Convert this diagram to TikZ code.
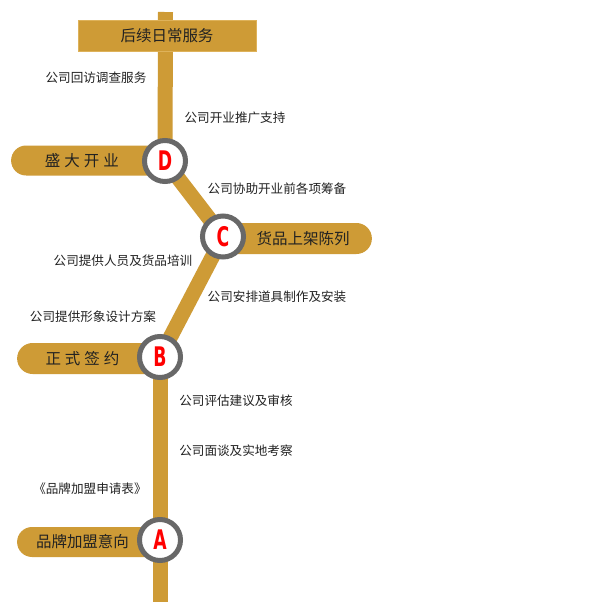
\documentclass[tikz,border=0pt]{standalone}
\usepackage{fontspec}
\setmainfont{Liberation Sans}
\newfontfamily\cjk{Noto Sans CJK SC}
\newfontfamily\letterfont{DejaVu Sans}[BoldFont=DejaVu Sans Bold]
\usetikzlibrary{shapes.misc,backgrounds}
\definecolor{gold}{RGB}{206,155,54}
\definecolor{goldedge}{RGB}{222,178,90}
\definecolor{ringgray}{RGB}{104,104,104}
\definecolor{letterred}{RGB}{255,0,0}
\definecolor{ink}{RGB}{34,34,34}
\tikzset{
  rail/.style={draw=gold,line width=15pt},
  station/.style={circle,draw=ringgray,line width=5pt,fill=white,minimum size=41pt,inner sep=0pt,
    font=\letterfont\bfseries\fontsize{27}{27}\selectfont,text=letterred},
  pillL/.style={rounded rectangle,rounded rectangle east arc=none,fill=gold,inner sep=0pt,
    minimum height=30pt,font=\cjk\fontsize{15.5}{16}\selectfont,text=ink},
  pillR/.style={rounded rectangle,rounded rectangle west arc=none,fill=gold,inner sep=0pt,
    minimum height=31pt,font=\cjk\fontsize{15.5}{16}\selectfont,text=ink},
  topbox/.style={rectangle,fill=gold,draw=goldedge,line width=0.8pt,inner sep=0pt,
    minimum width=178pt,minimum height=31pt,font=\cjk\fontsize{15.5}{16}\selectfont,text=ink},
  note/.style={font=\cjk\fontsize{12.6}{14}\selectfont,text=ink,inner sep=0pt}
}
\newcommand{\stl}[1]{\scalebox{0.64}[1]{#1}}
\begin{document}
\begin{tikzpicture}[x=1pt,y=-1pt]
\useasboundingbox (0,0) rectangle (600,614);
% pills and box
\node[pillL,minimum width=140pt] (pD) at (82,160.5) {盛\hspace{4pt}大\hspace{4pt}开\hspace{4pt}业};
\node[pillR,minimum width=136pt] (pC) at (303,238.5) {货品上架陈列};
\node[pillL,minimum width=129pt,minimum height=31pt] (pB) at (82.5,358.5) {正\hspace{4pt}式\hspace{4pt}签\hspace{4pt}约};
\node[pillL,minimum width=129pt] (pA) at (82.5,542) {品牌加盟意向};
\node[topbox] (svc) at (167,35.5) {后续日常服务};
% stations
\node[station] (D) at (165,161) {\stl{D}};
\node[station] (C) at (223,236.5) {\stl{C}};
\node[station] (B) at (160,357) {\stl{B}};
\node[station] (A) at (160,540) {\stl{A}};
\coordinate (top) at (165.5,12);
\coordinate (bot) at (160,602);
\begin{scope}[on background layer]
\fill[white] (0,0) rectangle (600,614);
\draw[rail] (top) -- (D.center);
\draw[rail] (D.center) -- (C.center);
\draw[rail] (C.center) -- (B.center);
\draw[rail] (B.center) -- (A.center);
\draw[rail] (A.center) -- (bot);
\end{scope}
% notes
\node[note] (n1) at (96,78) {公司回访调查服务};
\node[note] (n2) at (235,118) {公司开业推广支持};
\node[note] (n3) at (277,189) {公司协助开业前各项筹备};
\node[note] (n4) at (123,261) {公司提供人员及货品培训};
\node[note] (n5) at (277,297) {公司安排道具制作及安装};
\node[note] (n6) at (93,317) {公司提供形象设计方案};
\node[note] (n7) at (236,401) {公司评估建议及审核};
\node[note] (n8) at (236,451) {公司面谈及实地考察};
\node[note] (n9) at (90,489) {《品牌加盟申请表》};
\end{tikzpicture}
\end{document}
